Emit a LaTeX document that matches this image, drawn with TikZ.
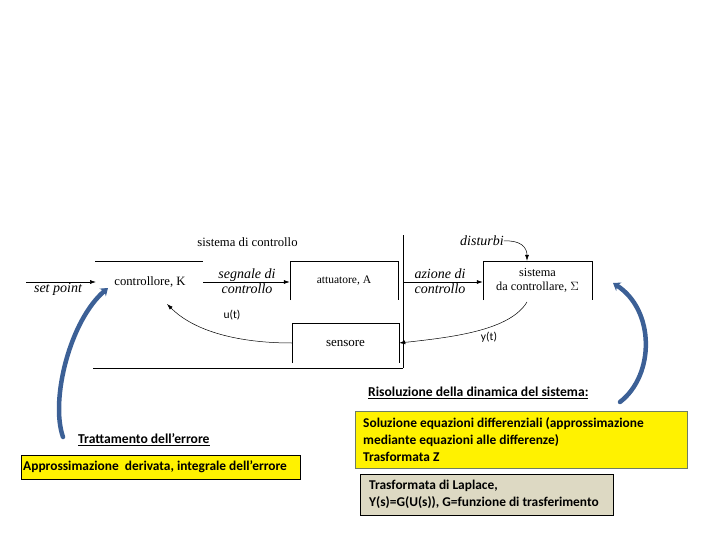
\documentclass[tikz,border=0pt]{standalone}
\usepackage{fontspec}
\setmainfont{Liberation Serif}
\newfontfamily\calib{Carlito}
\usetikzlibrary{arrows.meta}
\definecolor{bluearr}{RGB}{60,96,150}
\definecolor{beige}{RGB}{221,217,195}
\definecolor{ybord}{RGB}{110,125,100}
\tikzset{
  diag/.style={font=\fontsize{12.7}{14}\selectfont, inner sep=0pt},
  diagit/.style={font=\fontsize{14}{15}\selectfont\itshape, inner sep=0pt, align=center},
  openbox/.style={minimum width=#1, inner sep=0pt, align=center},
  sig/.style={-{Latex[length=6pt,width=4pt]}, line width=0.6pt},
  fb/.style={-{Latex[length=6pt,width=4pt]}, line width=0.5pt},
  bigarrow/.style={line width=4.5pt, bluearr, -{Stealth[length=7pt,width=10pt]}, line cap=round},
  cal/.style={font=\calib\bfseries\fontsize{13.4}{17}\selectfont, inner sep=0pt, align=left},
  calh/.style={font=\calib\bfseries\fontsize{13.6}{17}\selectfont, inner sep=0pt},
  small/.style={font=\calib\fontsize{11.5}{12}\selectfont, inner sep=0pt},
}
\begin{document}
\begin{tikzpicture}[x=1pt,y=-1pt]
\useasboundingbox (0,0) rectangle (720,540);

% frame lines
\draw[line width=0.6pt] (95,261) -- (203,261);
\draw[line width=0.6pt] (403,235) -- (403,368);
\draw[line width=0.6pt] (93,368) -- (403,368);

\node[diag] (title) at (247.5,242) {sistema di controllo};

% set point
\coordinate (spstart) at (26,282);
\node[diag] (ctrl) at (150,282) {controllore, K};
\coordinate (ctrlin) at (96,282);
\draw[sig] (spstart) -- (ctrlin);
\node[diagit] (sp) at (58,289) {set point};

% attuatore
\node[openbox=108pt, minimum height=39pt, font=\fontsize{11.5}{13}\selectfont] (att) at (344,280.5) {attuatore, A};
\draw[line width=0.6pt] (att.south west) -- (att.north west) -- (att.north east) -- (att.south east);
\coordinate (segstart) at (203,282);
\draw[sig] (segstart) -- (att.west |- segstart);
\node[diagit] (seg) at (247,281.5) {segnale di\\controllo};

% sistema
\node[openbox=109pt, minimum height=39pt, font=\fontsize{12.3}{14}\selectfont] (sis) at (537.5,280.5) {sistema\\da controllare, $\Sigma$};
\draw[line width=0.6pt] (sis.south west) -- (sis.north west) -- (sis.north east) -- (sis.south east);
\coordinate (azstart) at (403,282);
\draw[sig] (azstart) -- (sis.west |- azstart);
\node[diagit] (az) at (440,281.5) {azione di\\controllo};

% disturbi
\node[diagit] (dist) at (482,241) {disturbi};
\draw[fb] (dist.east) .. controls (520,240) and (527,247) .. (sis.north -| 527,0);

% sensore
\node[openbox=107pt, minimum height=40pt, font=\fontsize{13}{14}\selectfont] (sens) at (345.5,343) {sensore};
\draw[line width=0.6pt] (sens.south west) -- (sens.north west) -- (sens.north east) -- (sens.south east);

% feedback
\coordinate (uend) at (167,304);
\draw[fb] (sens.west) .. controls (240,343) and (195,332) .. (uend);
\node[small] (ut) at (232,315) {u(t)};
\coordinate (ystart) at (527,302);
\draw[fb] (ystart) .. controls (510,330) and (455,337) .. (sens.east);
\node[small] (yt) at (489,337) {y(t)};

% big blue arrows
\coordinate (lb1) at (63,437);
\coordinate (lb2) at (108,288);
\draw[bigarrow] (lb1) .. controls (50,400) and (70,320) .. (lb2);
\coordinate (rb1) at (620,402);
\coordinate (rb2) at (613,283);
\draw[bigarrow] (rb1) .. controls (655,375) and (655,310) .. (rb2);

% left texts
\node[calh, anchor=west] (tratt) at (78,440) {\underline{Trattamento dell’errore}};
\node[draw=black, fill=yellow, line width=0.6pt, minimum width=279pt, minimum height=24pt, anchor=north west, inner sep=0pt] (lbox) at (21,455) {};
\node[cal, anchor=west] (ltext) at (23,467) {Approssimazione\ \ derivata, integrale dell’errore};

% right texts
\node[calh, anchor=west] (riso) at (368,393) {\underline{Risoluzione della dinamica del sistema:}};
\node[draw=ybord, fill=yellow, line width=0.8pt, minimum width=332pt, minimum height=57pt, anchor=north west, inner sep=0pt] (rbox) at (355,411) {};
\node[cal, anchor=west] (rtext) at (363,439.5) {Soluzione equazioni differenziali (approssimazione\\mediante equazioni alle differenze)\\Trasformata Z};
\node[draw=black, fill=beige, line width=0.6pt, minimum width=253pt, minimum height=41pt, anchor=north west, inner sep=0pt] (gbox) at (360,474) {};
\node[cal, anchor=west] (gtext) at (369,494.5) {Trasformata di Laplace,\\Y(s)=G(U(s)), G=funzione di trasferimento};
\end{tikzpicture}
\end{document}
